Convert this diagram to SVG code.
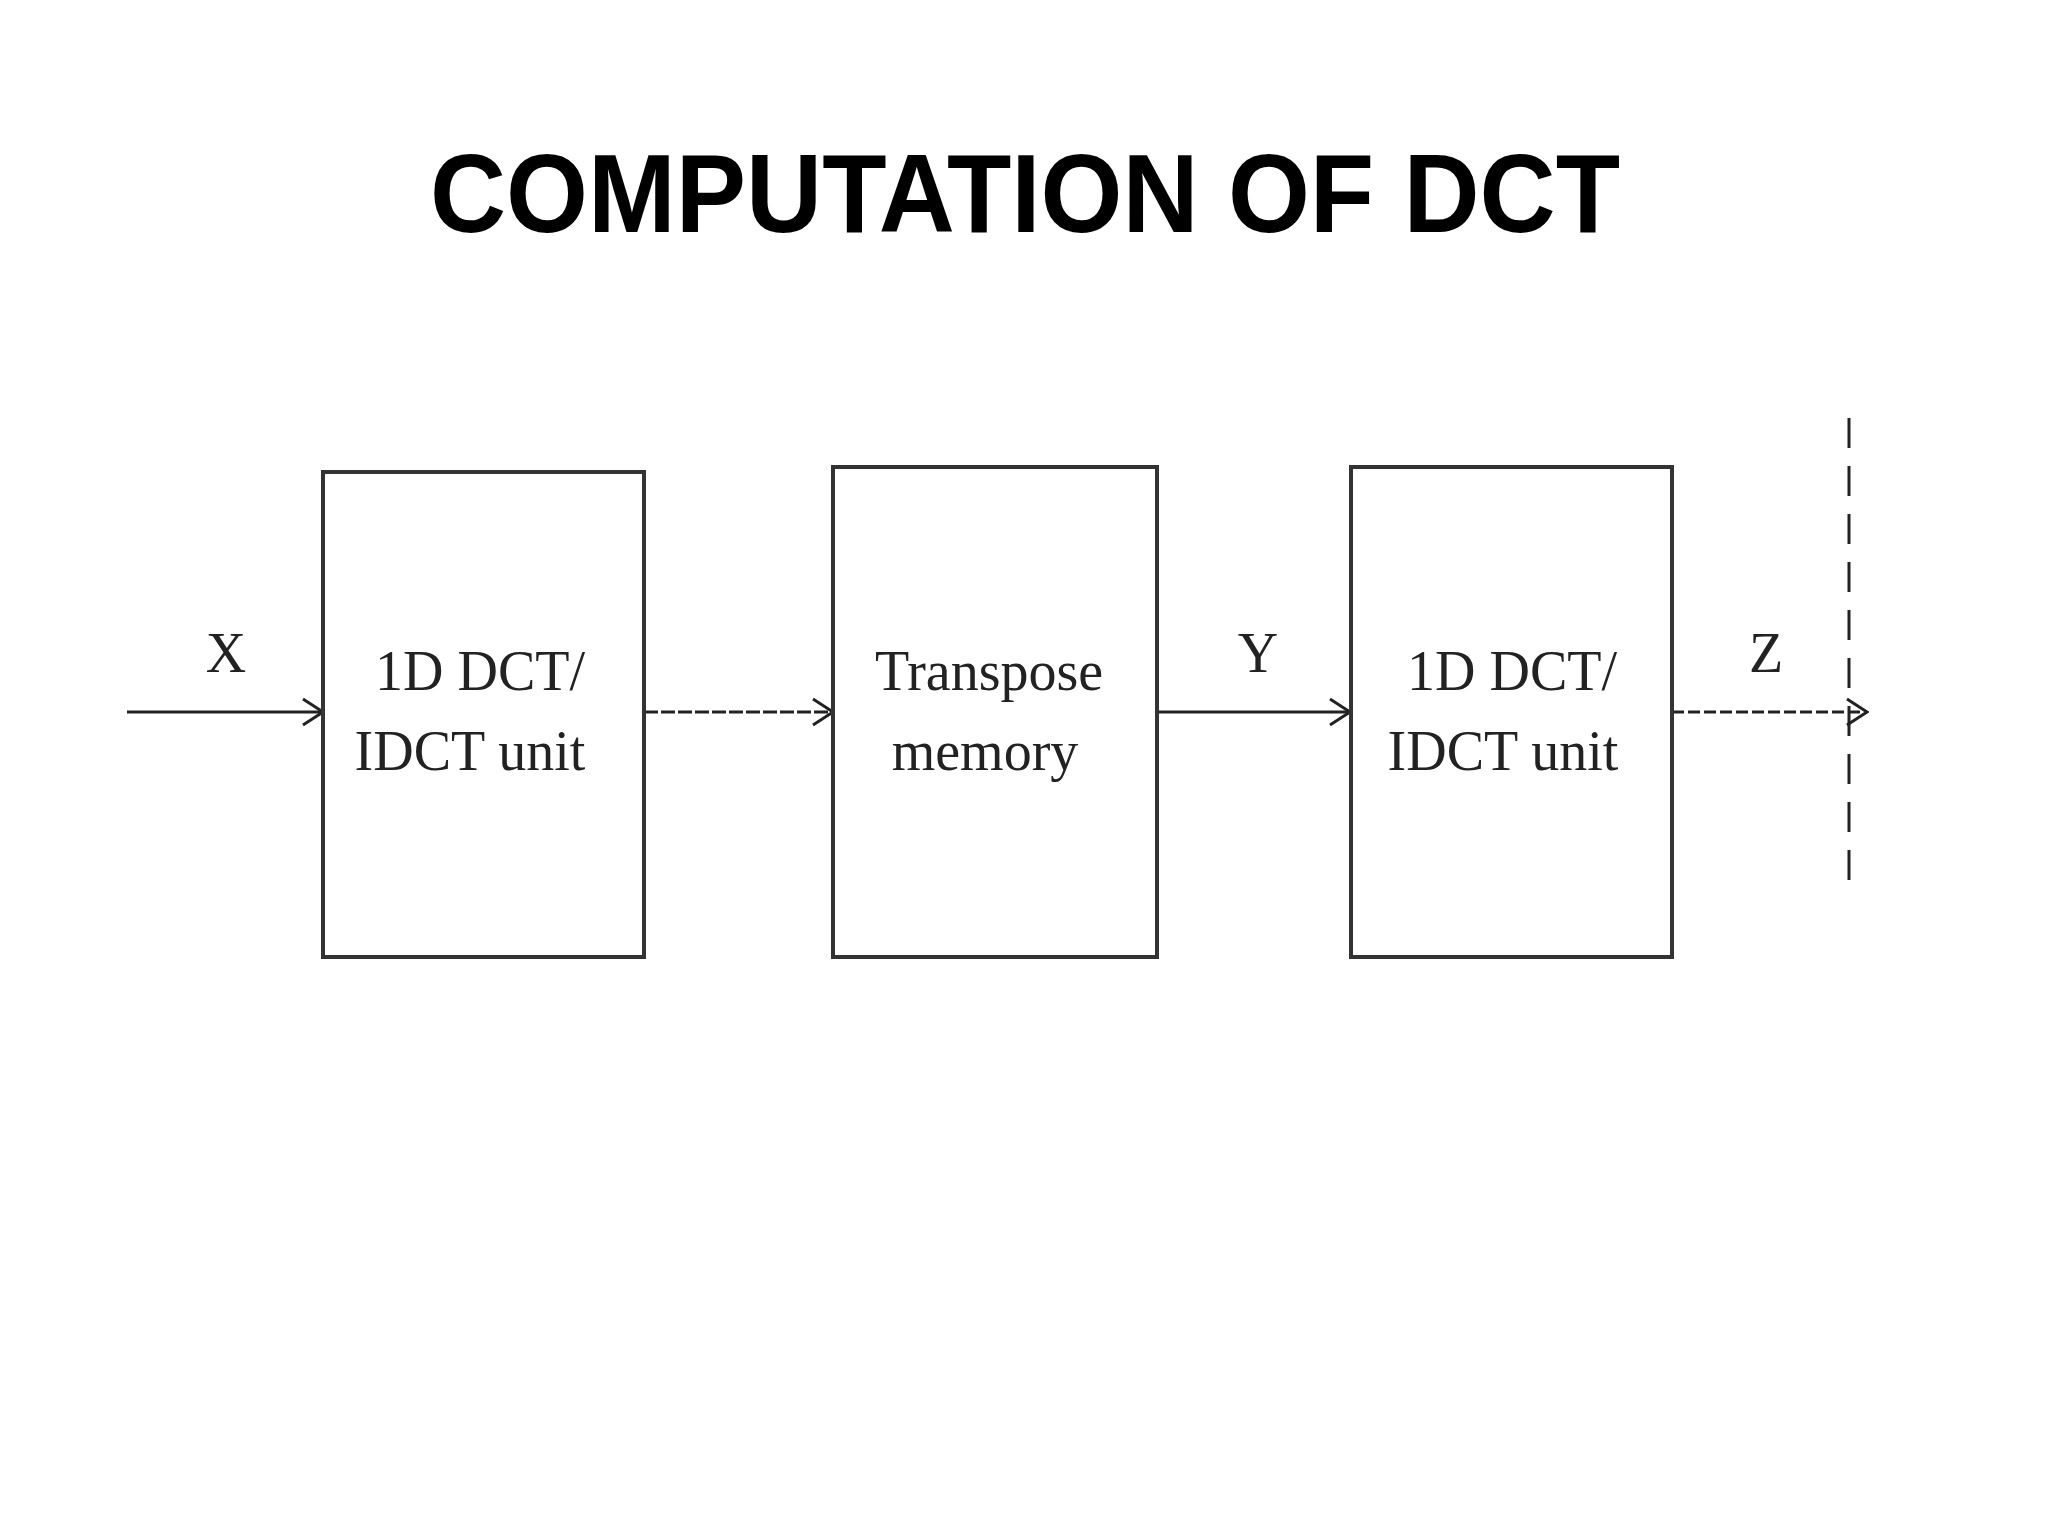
<svg xmlns="http://www.w3.org/2000/svg" width="2048" height="1536" viewBox="0 0 2048 1536">
<style>
.box{fill:#fff;stroke:#333;stroke-width:4}
.lbl{font-family:"Liberation Serif",serif;font-size:56px;fill:#222;text-anchor:middle}
.ln{stroke:#222;stroke-width:3;fill:none}
</style>
<defs>
<marker id="ah" markerWidth="24" markerHeight="30" refX="22" refY="15" orient="auto" markerUnits="userSpaceOnUse" viewBox="0 0 24 30">
<path d="M2,2 L22,15 L2,28" fill="none" stroke="#222" stroke-width="3"/>
</marker>
</defs>
<rect width="2048" height="1536" fill="#fff"/>
<text x="1025" y="232" font-family="Liberation Sans, sans-serif" font-weight="bold" font-size="112" text-anchor="middle" textLength="1190" lengthAdjust="spacingAndGlyphs">COMPUTATION OF DCT</text>
<g id="connectors">
<line class="ln" x1="127" y1="712" x2="323" y2="712" stroke-width="4" marker-end="url(#ah)"/>
<line class="ln" x1="644" y1="712" x2="833" y2="712" stroke-dasharray="14,3" marker-end="url(#ah)"/>
<line class="ln" x1="1157" y1="712" x2="1350" y2="712" marker-end="url(#ah)"/>
<line class="ln" x1="1672" y1="712" x2="1867" y2="712" stroke-dasharray="12,4" marker-end="url(#ah)"/>
<line class="ln" x1="1849" y1="418" x2="1849" y2="882" stroke="#666" stroke-dasharray="30,18"/>
<text class="lbl" x="226" y="672">X</text>
<text class="lbl" x="1258" y="672">Y</text>
<text class="lbl" x="1766" y="672">Z</text>
</g>
<g id="box1"><rect class="box" x="323" y="472" width="321" height="485"/>
<text class="lbl" x="480" y="690">1D DCT/</text><text class="lbl" x="470" y="770">IDCT unit</text></g>
<g id="box2"><rect class="box" x="833" y="467" width="324" height="490"/>
<text class="lbl" x="989" y="690">Transpose</text><text class="lbl" x="985" y="770">memory</text></g>
<g id="box3"><rect class="box" x="1351" y="467" width="321" height="490"/>
<text class="lbl" x="1512" y="690">1D DCT/</text><text class="lbl" x="1503" y="770">IDCT unit</text></g>
</svg>
